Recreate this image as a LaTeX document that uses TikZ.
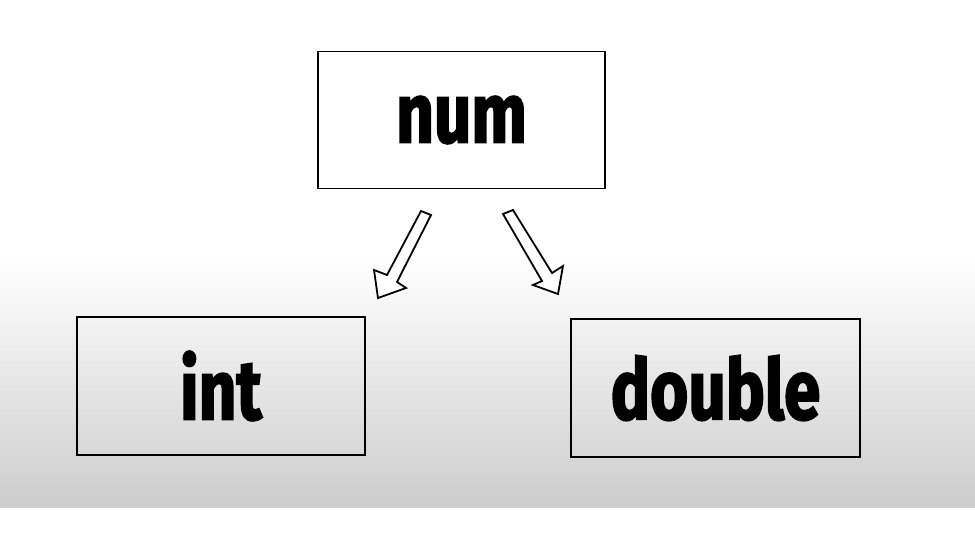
\documentclass[tikz,border=0pt]{standalone}
\usepackage{fontspec}
\setmainfont{Fira Sans}
\newfontfamily\heavyfont{Fira Sans}[BoldFeatures={FakeBold=2.5}]
\usepackage{graphicx}
\begin{document}
\begin{tikzpicture}[x=1pt,y=-1pt,
  box/.style={draw=black,line width=1.4pt,inner sep=0pt,
    font=\heavyfont\bfseries\fontsize{84}{90}\selectfont},
  arr/.style={draw=black,line width=1.8pt,fill=white,line join=miter}]
\useasboundingbox (0,0) rectangle (975,548);
\fill[white] (0,0) rectangle (975,548);
\shade[top color=white,bottom color={rgb,255:red,205;green,205;blue,205}] (0,258) rectangle (975,507);
% boxes
\node[box,minimum width=287pt,minimum height=137pt] (num) at (461.5,120) {\scalebox{0.78}[1]{num}};
\node[box,minimum width=288pt,minimum height=138pt] (int) at (221,386) {\scalebox{0.78}[1]{int}};
\node[box,minimum width=289pt,minimum height=138pt] (double) at (715.5,388) {\scalebox{0.78}[1]{double}};
% arrows
\draw[arr] (431,215) -- (397,282) -- (406,288) -- (378,298) -- (374,270) -- (387,275) -- (421,211) -- cycle;
\draw[arr] (503,214) -- (542,281) -- (533,285) -- (558,294) -- (563,266) -- (552,273) -- (513,210) -- cycle;
\end{tikzpicture}
\end{document}
